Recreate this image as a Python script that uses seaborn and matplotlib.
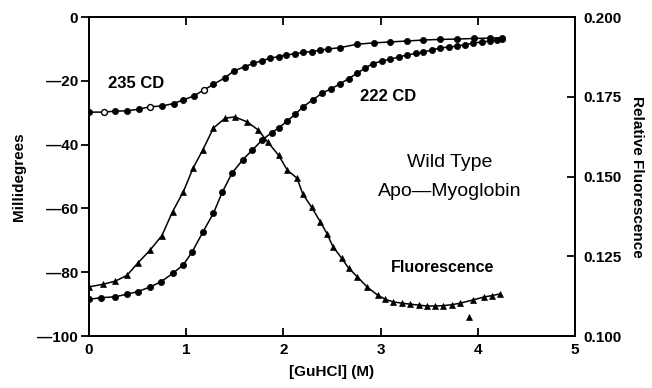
import matplotlib
matplotlib.use("Agg")
import matplotlib.pyplot as plt
import seaborn as sns
import pandas as pd

# GuHCl denaturation of wild type apo-myoglobin
gu_235 = [0.00, 0.15, 0.27, 0.39, 0.51, 0.63, 0.75, 0.87, 0.97, 1.08, 1.18, 1.28,
          1.40, 1.49, 1.60, 1.69, 1.78, 1.86, 1.95, 2.03, 2.12, 2.20, 2.29, 2.38,
          2.46, 2.58, 2.76, 2.93, 3.10, 3.27, 3.44, 3.61, 3.79, 3.96, 4.13, 4.25]
cd_235 = [-29.8, -29.8, -29.5, -29.4, -28.9, -28.1, -27.9, -27.1, -26.0, -24.7, -22.9, -21.1,
          -19.0, -16.9, -15.6, -14.5, -13.7, -12.9, -12.4, -11.9, -11.5, -11.1, -10.8, -10.4,
          -10.0, -9.6, -8.5, -8.1, -7.8, -7.5, -7.2, -7.0, -6.9, -6.7, -6.6, -6.5]
open_235 = [False, True, False, False, False, True, False, False, False, False, True, False,
            False, False, False, False, False, False, False, False, False, False, False, False,
            False, False, False, False, False, False, False, False, False, False, False, False]

gu_222 = [0.00, 0.12, 0.27, 0.39, 0.50, 0.63, 0.74, 0.86, 0.97, 1.06, 1.17, 1.28,
          1.37, 1.47, 1.58, 1.68, 1.78, 1.88, 1.95, 2.04, 2.12, 2.20, 2.30, 2.40,
          2.49, 2.58, 2.67, 2.76, 2.84, 2.92, 3.01, 3.10, 3.19, 3.27, 3.36, 3.44,
          3.53, 3.61, 3.70, 3.79, 3.87, 3.95, 4.04, 4.13, 4.20, 4.25]
cd_222 = [-88.5, -88.0, -87.7, -86.9, -86.1, -84.6, -83.0, -80.4, -77.7, -73.7, -67.5, -61.5,
          -55.0, -49.0, -44.8, -41.7, -38.6, -36.2, -34.8, -32.6, -30.5, -28.2, -26.0, -23.8,
          -22.5, -21.0, -19.3, -17.6, -16.0, -14.6, -13.8, -13.2, -12.5, -11.9, -11.4, -11.0,
          -10.3, -9.7, -9.4, -9.1, -8.6, -8.2, -7.8, -7.5, -7.2, -7.0]

gu_fl = [0.00, 0.14, 0.27, 0.39, 0.50, 0.63, 0.75, 0.86, 0.97, 1.07, 1.17, 1.28,
         1.40, 1.50, 1.63, 1.74, 1.84, 1.95, 2.04, 2.14, 2.20, 2.29, 2.38, 2.45,
         2.51, 2.60, 2.67, 2.76, 2.86, 2.97, 3.05, 3.13, 3.22, 3.30, 3.39, 3.48,
         3.56, 3.64, 3.73, 3.82, 3.95, 4.06, 4.15, 4.23]
fluor = [0.1154, 0.1162, 0.1172, 0.1190, 0.1228, 0.1270, 0.1315, 0.1390, 0.1452, 0.1526, 0.1583, 0.1652,
         0.1683, 0.1687, 0.1671, 0.1646, 0.1608, 0.1567, 0.1520, 0.1495, 0.1445, 0.1404, 0.1358, 0.1320,
         0.1280, 0.1244, 0.1213, 0.1186, 0.1154, 0.1128, 0.1115, 0.1107, 0.1103, 0.1100, 0.1097, 0.1094,
         0.1094, 0.1095, 0.1098, 0.1103, 0.1113, 0.1122, 0.1127, 0.1132]
gu_fl_outlier = [3.91]
fluor_outlier = [0.106]

x_ticks = [0, 1, 2, 3, 4, 5]
y_ticks = [0, -20, -40, -60, -80, -100]
y_ticklabels = ["0", "\u201420", "\u201440", "\u201460", "\u201480", "\u2014100"]
r_ticks = [0.100, 0.125, 0.150, 0.175, 0.200]
r_ticklabels = ["0.100", "0.125", "0.150", "0.175", "0.200"]

sns.set_style("ticks")
plt.rcParams["font.family"] = ["Liberation Sans", "DejaVu Sans"]
plt.rcParams["text.color"] = "black"
plt.rcParams["axes.labelcolor"] = "black"
plt.rcParams["xtick.color"] = "black"
plt.rcParams["ytick.color"] = "black"

df235 = pd.DataFrame({"gu": gu_235, "cd": cd_235, "open": open_235})
df222 = pd.DataFrame({"gu": gu_222, "cd": cd_222})
dffl = pd.DataFrame({"gu": gu_fl, "f": fluor})

fig = plt.figure(figsize=(6.52, 3.88), dpi=100)
ax = fig.add_axes([0.1365, 0.134, 0.7454, 0.822])
ax2 = ax.twinx()

# CD curves (left axis)
sns.lineplot(data=df235, x="gu", y="cd", ax=ax, color="black", lw=1.1,
             estimator=None, sort=False)
sns.scatterplot(data=df235[~df235["open"]], x="gu", y="cd", ax=ax, color="black",
                s=20, marker="o", edgecolor="black", linewidth=0.5, zorder=3)
sns.scatterplot(data=df235[df235["open"]], x="gu", y="cd", ax=ax, color="white",
                s=18, marker="o", edgecolor="black", linewidth=1.0, zorder=3)
sns.lineplot(data=df222, x="gu", y="cd", ax=ax, color="black", lw=1.1,
             estimator=None, sort=False)
sns.scatterplot(data=df222, x="gu", y="cd", ax=ax, color="black",
                s=20, marker="o", edgecolor="black", linewidth=0.5, zorder=3)

# fluorescence (right axis)
sns.lineplot(data=dffl, x="gu", y="f", ax=ax2, color="black", lw=1.1,
             estimator=None, sort=False)
sns.scatterplot(data=dffl, x="gu", y="f", ax=ax2, color="black",
                s=18, marker="^", edgecolor="black", linewidth=0.5, zorder=3)
sns.scatterplot(x=gu_fl_outlier, y=fluor_outlier, ax=ax2, color="black",
                s=18, marker="^", edgecolor="black", linewidth=0.5, zorder=3)

ax.set_xlim(0, 5)
ax.set_ylim(-100, 0)
ax2.set_ylim(0.100, 0.200)

ax.set_xticks(x_ticks)
ax.set_xticklabels([str(t) for t in x_ticks], fontsize=11, fontweight="bold")
ax.set_yticks(y_ticks)
ax.set_yticklabels(y_ticklabels, fontsize=11, fontweight="bold")
ax2.set_yticks(r_ticks)
ax2.set_yticklabels(r_ticklabels, fontsize=11, fontweight="bold")

ax.tick_params(axis="y", direction="out", length=6, width=1.3, pad=2)
ax.tick_params(axis="x", direction="in", length=6, width=1.3, top=True, pad=5)
ax2.tick_params(axis="y", direction="in", length=6, width=1.3, pad=6)

for a in (ax, ax2):
    for sp in a.spines.values():
        sp.set_visible(True)
        sp.set_linewidth(1.3)
        sp.set_color("black")

ax.set_xlabel("[GuHCl] (M)", fontsize=11, fontweight="bold", labelpad=6)
ax.set_ylabel("Millidegrees", fontsize=11, fontweight="bold", labelpad=8)
ax2.set_ylabel("Relative Fluorescence", fontsize=11, fontweight="bold",
               rotation=270, labelpad=16)

ax.text(0.2, -20.7, "235 CD", fontsize=12, fontweight="bold", va="center", ha="left")
ax.text(3.08, -25, "222 CD", fontsize=12, fontweight="bold", va="center", ha="center")
ax.text(3.71, -45.5, "Wild Type", fontsize=14, va="center", ha="center")
ax.text(3.71, -54.8, "Apo\u2014Myoglobin", fontsize=14, va="center", ha="center")
ax.text(3.64, -78.4, "Fluorescence", fontsize=11.5, fontweight="bold", va="center", ha="center")

fig.savefig("out.png", dpi=100)
